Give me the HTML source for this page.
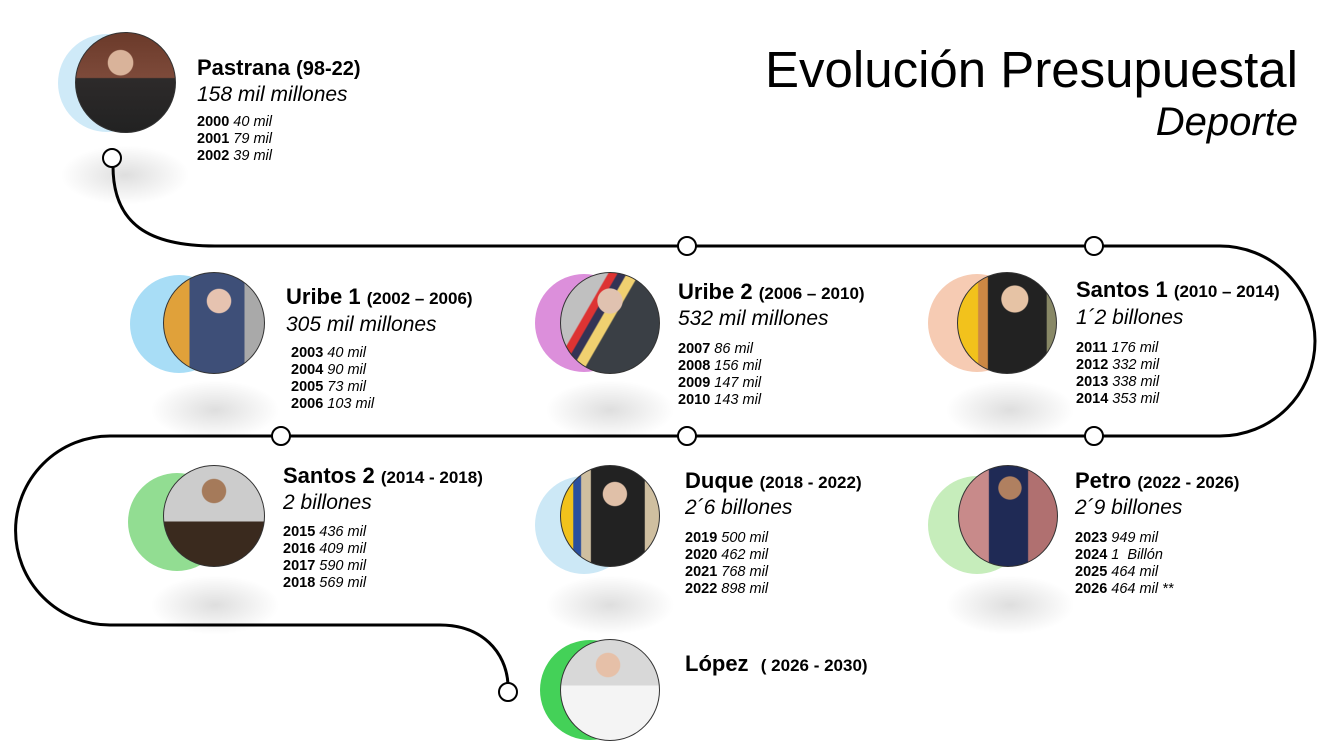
<!DOCTYPE html>
<html><head><meta charset="utf-8"><style>
body{margin:0;width:1331px;height:751px;background:#fff;position:relative;overflow:hidden;font-family:"Liberation Sans",sans-serif;color:#000}
.a{position:absolute}
.c{position:absolute;border-radius:50%}
.p{position:absolute;border-radius:50%;border:1px solid #333;overflow:hidden}
.sh{position:absolute;border-radius:50%;background:radial-gradient(ellipse at center,rgba(0,0,0,0.13),rgba(0,0,0,0) 70%)}
.n{position:absolute;font-weight:bold;font-size:22px;white-space:nowrap}
.n small{font-size:17px}
.m{position:absolute;font-style:italic;font-size:21px;white-space:nowrap}
.y{position:absolute;font-size:14.5px;line-height:17px;white-space:nowrap}
.y b{font-weight:bold}.y i{font-style:italic}
</style></head><body>
<div class="sh" style="left:60px;top:145px;width:130px;height:60px"></div>
<div class="sh" style="left:150px;top:380px;width:130px;height:60px"></div>
<div class="sh" style="left:545px;top:380px;width:130px;height:60px"></div>
<div class="sh" style="left:945px;top:380px;width:130px;height:60px"></div>
<div class="sh" style="left:150px;top:575px;width:130px;height:60px"></div>
<div class="sh" style="left:545px;top:575px;width:130px;height:60px"></div>
<div class="sh" style="left:945px;top:575px;width:130px;height:60px"></div>

<svg class="a" style="left:0;top:0" width="1331" height="751">
<path d="M113,166 C113,225 150,246 215,246 L1220,246 A95,95 0 0 1 1220,436 L110,436 A94.5,94.5 0 0 0 110,625 L440,625 C482,625 506,652 508,684" fill="none" stroke="#000" stroke-width="3"/>
<g fill="#fff" stroke="#000" stroke-width="2">
<circle cx="112" cy="158" r="9"/><circle cx="687" cy="246" r="9"/><circle cx="1094" cy="246" r="9"/>
<circle cx="281" cy="436" r="9"/><circle cx="687" cy="436" r="9"/><circle cx="1094" cy="436" r="9"/>
<circle cx="508" cy="692" r="9"/>
</g></svg>

<div class="c" style="left:58px;top:34px;width:98px;height:98px;background:#cfeaf8"></div>
<div class="c" style="left:130px;top:275px;width:98px;height:98px;background:#a8ddf6"></div>
<div class="c" style="left:535px;top:274px;width:98px;height:98px;background:#dc8fdb"></div>
<div class="c" style="left:928px;top:274px;width:98px;height:98px;background:#f6cbb3"></div>
<div class="c" style="left:128px;top:473px;width:98px;height:98px;background:#92dd92"></div>
<div class="c" style="left:535px;top:476px;width:98px;height:98px;background:#cce8f6"></div>
<div class="c" style="left:928px;top:476px;width:98px;height:98px;background:#c6edbb"></div>
<div class="c" style="left:540px;top:640px;width:100px;height:100px;background:#44d158"></div>

<div class="p" style="left:75px;top:32px;width:99px;height:99px;background:radial-gradient(circle at 45% 30%,#d9b39a 0 14%,transparent 15%),linear-gradient(180deg,#6b3a2a 0%,#7d4a3a 45%,#2d2a2a 46%,#222 100%)"></div>
<div class="p" style="left:163px;top:272px;width:100px;height:100px;background:radial-gradient(circle at 55% 28%,#e6c3b0 0 13%,transparent 14%),linear-gradient(90deg,#e0a13a 0 25%,#3e4f78 26% 80%,#a9a9a9 81%)"></div>
<div class="p" style="left:560px;top:272px;width:98px;height:100px;background:radial-gradient(circle at 50% 28%,#e0c2b0 0 14%,transparent 15%),linear-gradient(120deg,#c0c0c0 0 30%,#d33 31% 36%,#335 37% 42%,#f0d070 43% 50%,#3a3f45 51%)"></div>
<div class="p" style="left:957px;top:272px;width:98px;height:100px;background:radial-gradient(circle at 58% 26%,#e6c3a5 0 14%,transparent 15%),linear-gradient(90deg,#f2c21c 0 20%,#c84 21% 30%,#222 31% 90%,#886 91%)"></div>
<div class="p" style="left:163px;top:465px;width:100px;height:100px;background:radial-gradient(circle at 50% 25%,#a57a5a 0 13%,transparent 14%),linear-gradient(180deg,#ccc 0 55%,#3a2a1e 56%)"></div>
<div class="p" style="left:560px;top:465px;width:98px;height:100px;background:radial-gradient(circle at 55% 28%,#e0c0a8 0 13%,transparent 14%),linear-gradient(90deg,#f2c21c 0 12%,#2b4f9e 13% 20%,#cfbfa0 21% 30%,#222 31% 85%,#cfbfa0 86%)"></div>
<div class="p" style="left:958px;top:465px;width:98px;height:100px;background:radial-gradient(circle at 52% 22%,#b08060 0 12%,transparent 13%),linear-gradient(90deg,#c88a8a 0 30%,#1f2a55 31% 70%,#b07070 71%)"></div>
<div class="p" style="left:560px;top:639px;width:98px;height:100px;background:radial-gradient(circle at 48% 25%,#e6c0a8 0 13%,transparent 14%),linear-gradient(180deg,#d8d8d8 0 45%,#f4f4f4 46%)"></div>

<div class="a" style="right:33px;top:40px;font-size:51px;white-space:nowrap">Evolución Presupuestal</div>
<div class="a" style="right:33px;top:100px;font-size:40px;font-style:italic">Deporte</div>

<div class="n" style="left:197px;top:55px">Pastrana <small style="font-size:20px">(98-22)</small></div>
<div class="m" style="left:197px;top:83px">158 mil millones</div>
<div class="y" style="left:197px;top:114px"><b>2000</b> <i>40 mil</i><br><b>2001</b> <i>79 mil</i><br><b>2002</b> <i>39 mil</i></div>

<div class="n" style="left:286px;top:284px">Uribe 1 <small>(2002 – 2006)</small></div>
<div class="m" style="left:286px;top:313px">305 mil millones</div>
<div class="y" style="left:291px;top:345px"><b>2003</b> <i>40 mil</i><br><b>2004</b> <i>90 mil</i><br><b>2005</b> <i>73 mil</i><br><b>2006</b> <i>103 mil</i></div>

<div class="n" style="left:678px;top:279px">Uribe 2 <small>(2006 – 2010)</small></div>
<div class="m" style="left:678px;top:307px">532 mil millones</div>
<div class="y" style="left:678px;top:341px"><b>2007</b> <i>86 mil</i><br><b>2008</b> <i>156 mil</i><br><b>2009</b> <i>147 mil</i><br><b>2010</b> <i>143 mil</i></div>

<div class="n" style="left:1076px;top:277px">Santos 1 <small>(2010 – 2014)</small></div>
<div class="m" style="left:1076px;top:306px">1´2 billones</div>
<div class="y" style="left:1076px;top:340px"><b>2011</b> <i>176 mil</i><br><b>2012</b> <i>332 mil</i><br><b>2013</b> <i>338 mil</i><br><b>2014</b> <i>353 mil</i></div>

<div class="n" style="left:283px;top:463px">Santos 2 <small>(2014 - 2018)</small></div>
<div class="m" style="left:283px;top:491px">2 billones</div>
<div class="y" style="left:283px;top:524px"><b>2015</b> <i>436 mil</i><br><b>2016</b> <i>409 mil</i><br><b>2017</b> <i>590 mil</i><br><b>2018</b> <i>569 mil</i></div>

<div class="n" style="left:685px;top:468px">Duque <small>(2018 - 2022)</small></div>
<div class="m" style="left:685px;top:496px">2´6 billones</div>
<div class="y" style="left:685px;top:530px"><b>2019</b> <i>500 mil</i><br><b>2020</b> <i>462 mil</i><br><b>2021</b> <i>768 mil</i><br><b>2022</b> <i>898 mil</i></div>

<div class="n" style="left:1075px;top:468px">Petro <small>(2022 - 2026)</small></div>
<div class="m" style="left:1075px;top:496px">2´9 billones</div>
<div class="y" style="left:1075px;top:530px"><b>2023</b> <i>949 mil</i><br><b>2024</b> <i>1&nbsp; Billón</i><br><b>2025</b> <i>464 mil</i><br><b>2026</b> <i>464 mil **</i></div>

<div class="n" style="left:685px;top:651px">López&nbsp; <small>( 2026 - 2030)</small></div>
</body></html>
